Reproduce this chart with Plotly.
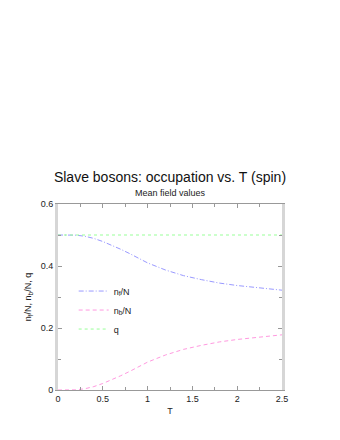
import plotly.graph_objects as go

T = [0, 0.1, 0.2, 0.3, 0.4, 0.5, 0.6, 0.7, 0.8, 0.9, 1.0, 1.2, 1.4, 1.6, 1.8, 2.0, 2.2, 2.4, 2.5]
nf = [0.5, 0.5, 0.4995, 0.496, 0.489, 0.479, 0.467, 0.454, 0.44, 0.425, 0.41, 0.387, 0.369, 0.356, 0.345, 0.337, 0.33, 0.325, 0.322]
nb = [0.0, 0.0, 0.0005, 0.004, 0.011, 0.021, 0.033, 0.046, 0.06, 0.075, 0.09, 0.113, 0.131, 0.144, 0.155, 0.163, 0.17, 0.175, 0.178]
q = [0.5] * len(T)

names = ["n<sub>f</sub>/N", "n<sub>b</sub>/N", "q"]
colors = ["#9a9aff", "#ff99e0", "#99ff99"]
dashes = ["5px,2px,1px,2px", "4px,3px", "3px,3px"]

fig = go.Figure()
for y, n, c, d in zip([nf, nb, q], names, colors, dashes):
    fig.add_trace(go.Scatter(x=T, y=y, mode="lines", name=n,
                             line=dict(color=c, dash=d, width=1)))

fig.update_layout(
    width=340, height=440,
    paper_bgcolor="white", plot_bgcolor="white",
    margin=dict(l=50, r=66, t=196, b=58),
    font=dict(family="Liberation Sans, Arial, sans-serif", size=9, color="#222"),
    title=dict(text="Slave bosons: occupation vs. T (spin)", x=0.5 * (50 + 274) / 340, xanchor="center",
               y=1 - 169 / 440, yanchor="middle", font=dict(size=14, color="#111")),
    annotations=[dict(text="Mean field values", xref="paper", yref="paper",
                      x=0.5, y=1.06, yanchor="middle", showarrow=False,
                      font=dict(size=9, color="#222"))],
    showlegend=True,
    legend=dict(x=0.07, y=0.61, xanchor="left", yanchor="top", bgcolor="rgba(0,0,0,0)",
                font=dict(size=9), tracegroupgap=0, itemwidth=30),
)
fig.update_xaxes(range=[0, 2.5], tickvals=[0, 0.5, 1, 1.5, 2, 2.5],
                 ticktext=["0", "0.5", "1", "1.5", "2", "2.5"],
                 showgrid=False, zeroline=False, showline=True, linecolor="#999",
                 linewidth=1, mirror="allticks", ticks="inside", ticklen=4, tickcolor="#999",
                 minor=dict(dtick=0.25, ticks="inside", ticklen=3, tickcolor="#999"),
                 title=dict(text="T", font=dict(size=9), standoff=4))
fig.update_yaxes(range=[0, 0.6], tickvals=[0, 0.2, 0.4, 0.6],
                 ticktext=["0", "0.2", "0.4", "0.6"],
                 showgrid=False, zeroline=False, showline=True, linecolor="#d6d6d6",
                 linewidth=3, mirror="allticks", ticks="inside", ticklen=4, tickcolor="#999",
                 minor=dict(dtick=0.1, ticks="inside", ticklen=3, tickcolor="#999"),
                 title=dict(text="n<sub>f</sub>/N, n<sub>b</sub>/N, q", font=dict(size=9), standoff=8))

fig.write_html("out.html")
